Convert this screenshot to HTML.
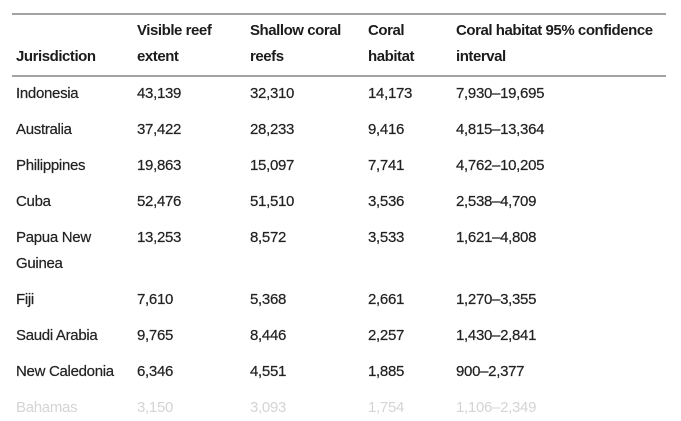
<!DOCTYPE html>
<html>
<head>
<meta charset="utf-8">
<style>
  html, body { margin:0; padding:0; background:#ffffff; }
  body { width:681px; height:400px; position:relative; overflow:hidden;
         font-family:"Liberation Sans", "DejaVu Sans", sans-serif; color:#222222; }
  .rule { position:absolute; left:12px; width:654px; height:2px; background:#a3a3a3; }
  .c { position:absolute; font-size:15px; line-height:26px; letter-spacing:-0.3px; white-space:nowrap;
       -webkit-text-stroke:0.2px #222; }
  .h { font-weight:bold; letter-spacing:-0.45px; color:#1c1c1c; -webkit-text-stroke:0; }
</style>
</head>
<body>
  <div class="rule" style="top:13px;"></div>
  <div class="rule" style="top:75px;"></div>

  <!-- header -->
  <div class="c h" style="left:16px; top:44px;">Jurisdiction</div>
  <div class="c h" style="left:137px; top:18px;">Visible reef<br>extent</div>
  <div class="c h" style="left:250px; top:18px;">Shallow coral<br>reefs</div>
  <div class="c h" style="left:368px; top:18px;">Coral<br>habitat</div>
  <div class="c h" style="left:456px; top:18px;">Coral habitat 95% confidence<br>interval</div>

  <!-- rows -->
  <div class="c" style="left:16px; top:81px;">Indonesia</div>
  <div class="c" style="left:137px; top:81px;">43,139</div>
  <div class="c" style="left:250px; top:81px;">32,310</div>
  <div class="c" style="left:368px; top:81px;">14,173</div>
  <div class="c" style="left:456px; top:81px;">7,930–19,695</div>

  <div class="c" style="left:16px; top:117px;">Australia</div>
  <div class="c" style="left:137px; top:117px;">37,422</div>
  <div class="c" style="left:250px; top:117px;">28,233</div>
  <div class="c" style="left:368px; top:117px;">9,416</div>
  <div class="c" style="left:456px; top:117px;">4,815–13,364</div>

  <div class="c" style="left:16px; top:153px;">Philippines</div>
  <div class="c" style="left:137px; top:153px;">19,863</div>
  <div class="c" style="left:250px; top:153px;">15,097</div>
  <div class="c" style="left:368px; top:153px;">7,741</div>
  <div class="c" style="left:456px; top:153px;">4,762–10,205</div>

  <div class="c" style="left:16px; top:189px;">Cuba</div>
  <div class="c" style="left:137px; top:189px;">52,476</div>
  <div class="c" style="left:250px; top:189px;">51,510</div>
  <div class="c" style="left:368px; top:189px;">3,536</div>
  <div class="c" style="left:456px; top:189px;">2,538–4,709</div>

  <div class="c" style="left:16px; top:225px;">Papua New<br>Guinea</div>
  <div class="c" style="left:137px; top:225px;">13,253</div>
  <div class="c" style="left:250px; top:225px;">8,572</div>
  <div class="c" style="left:368px; top:225px;">3,533</div>
  <div class="c" style="left:456px; top:225px;">1,621–4,808</div>

  <div class="c" style="left:16px; top:287px;">Fiji</div>
  <div class="c" style="left:137px; top:287px;">7,610</div>
  <div class="c" style="left:250px; top:287px;">5,368</div>
  <div class="c" style="left:368px; top:287px;">2,661</div>
  <div class="c" style="left:456px; top:287px;">1,270–3,355</div>

  <div class="c" style="left:16px; top:323px;">Saudi Arabia</div>
  <div class="c" style="left:137px; top:323px;">9,765</div>
  <div class="c" style="left:250px; top:323px;">8,446</div>
  <div class="c" style="left:368px; top:323px;">2,257</div>
  <div class="c" style="left:456px; top:323px;">1,430–2,841</div>

  <div class="c" style="left:16px; top:359px;">New Caledonia</div>
  <div class="c" style="left:137px; top:359px;">6,346</div>
  <div class="c" style="left:250px; top:359px;">4,551</div>
  <div class="c" style="left:368px; top:359px;">1,885</div>
  <div class="c" style="left:456px; top:359px;">900–2,377</div>

  <!-- partially visible next row (cut off at bottom) -->
  <div class="c" style="left:16px; top:395px; color:#d4d4d4; -webkit-text-stroke:0;">Bahamas</div>
  <div class="c" style="left:137px; top:395px; color:#d4d4d4; -webkit-text-stroke:0;">3,150</div>
  <div class="c" style="left:250px; top:395px; color:#d4d4d4; -webkit-text-stroke:0;">3,093</div>
  <div class="c" style="left:368px; top:395px; color:#d4d4d4; -webkit-text-stroke:0;">1,754</div>
  <div class="c" style="left:456px; top:395px; color:#d4d4d4; -webkit-text-stroke:0;">1,106–2,349</div>
</body>
</html>
